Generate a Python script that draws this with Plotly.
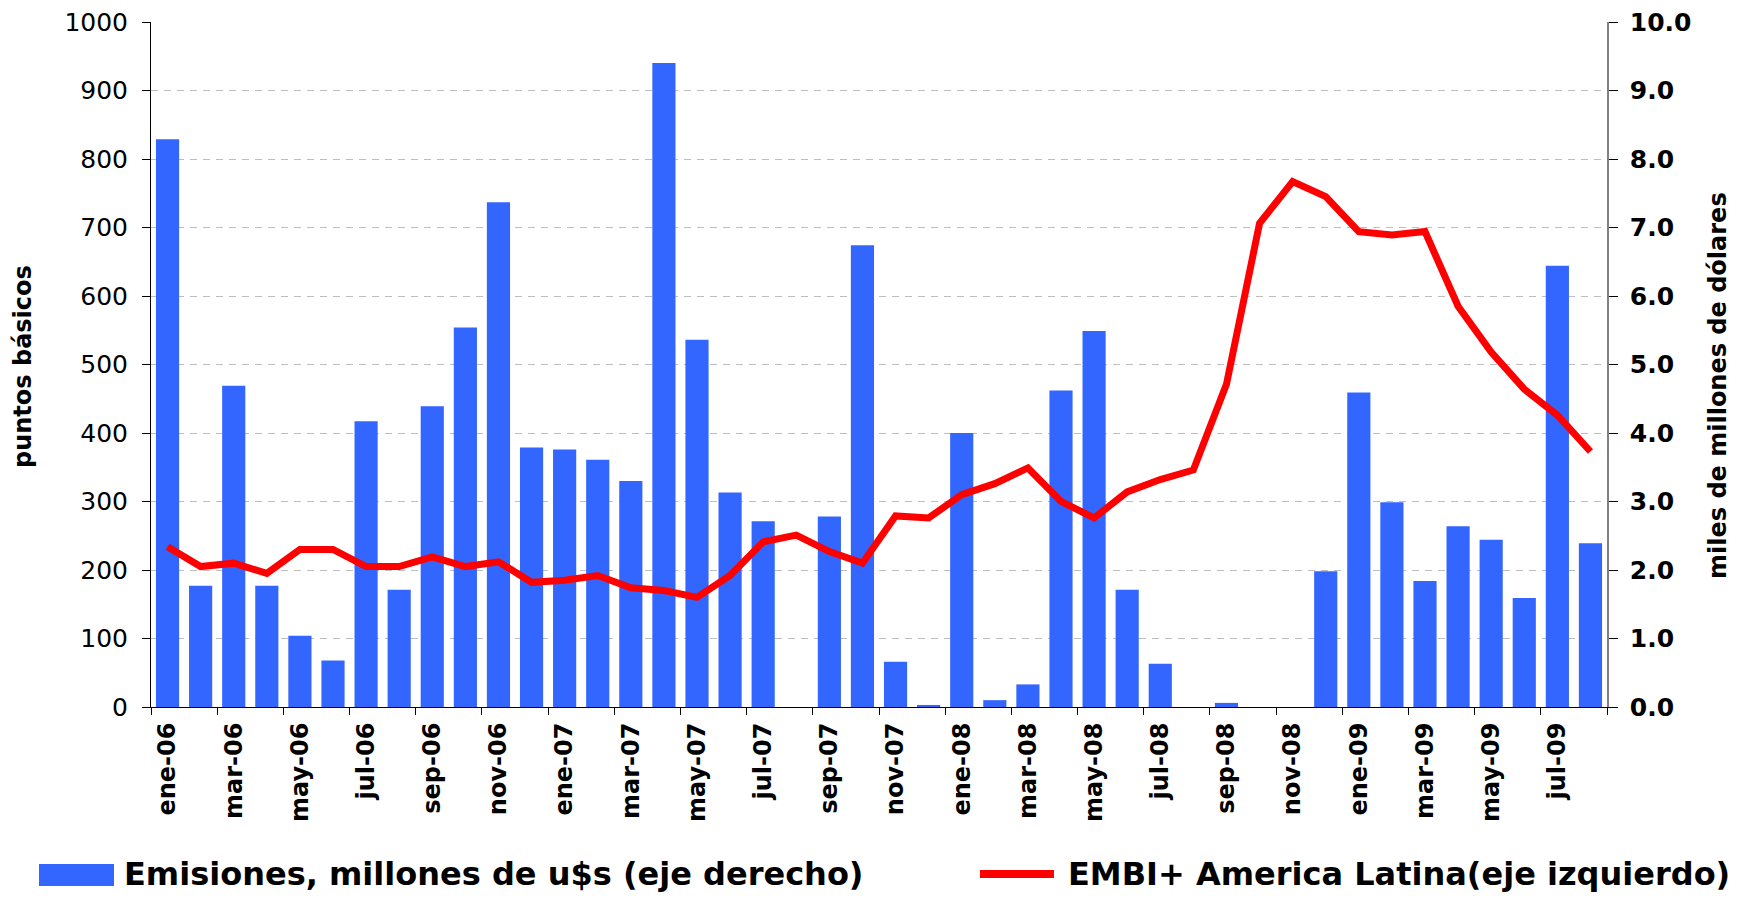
import plotly.graph_objects as go

# months ene-06 .. ago-09
meses = ['ene', 'feb', 'mar', 'abr', 'may', 'jun', 'jul', 'ago', 'sep', 'oct', 'nov', 'dic']
periodos = [f"{m}-{a}" for a in ['06', '07', '08', '09'] for m in meses][:44]

# Emisiones, miles de millones de u$s (right axis)
emisiones = [
    8.29, 1.77, 4.69, 1.77, 1.04, 0.68, 4.17, 1.71, 4.39, 5.54, 7.37, 3.79,
    3.76, 3.61, 3.30, 9.40, 5.36, 3.13, 2.71, 0.00, 2.78, 6.74, 0.66, 0.03,
    4.00, 0.10, 0.33, 4.62, 5.49, 1.71, 0.63, 0.00, 0.06, 0.00, 0.00, 1.98,
    4.59, 2.99, 1.84, 2.64, 2.44, 1.59, 6.44, 2.39,
]

# EMBI+ America Latina, puntos basicos (left axis)
embi = [
    234, 205, 210, 195, 230, 230, 205, 205, 219, 205, 212, 182,
    185, 192, 174, 170, 160, 192, 241, 251, 227, 210, 279, 276,
    310, 326, 349, 300, 276, 314, 332, 346, 471, 706, 767, 745,
    694, 689, 694, 585, 518, 464, 426, 373,
]

BLUE = '#3366FF'
RED = '#FF0000'
FONT = 'DejaVu Sans'

OFF = 8  # default body margin of the html page
W, H = 1743 - OFF, 898 - OFF
# plot area, in page pixels
L, R, T, B = 151 - OFF, 1607 - OFF, 22 - OFF, 707 - OFF


def px(x):
    return (x - OFF - L) / (R - L)


def py(y):
    return (B - (y - OFF)) / (B - T)


fig = go.Figure()

fig.add_trace(go.Bar(
    x=periodos, y=emisiones,
    marker=dict(color=BLUE, line=dict(width=0)),
    name='Emisiones, millones de u$s (eje derecho)',
    showlegend=False,
    yaxis='y',
))

fig.add_trace(go.Scatter(
    x=periodos, y=embi,
    mode='lines',
    line=dict(color=RED, width=7),
    name='EMBI+ America Latina(eje izquierdo)',
    showlegend=False,
    yaxis='y2',
))

# hand-made legend (large keys like the original)
fig.add_shape(type='rect', xref='paper', yref='paper',
              x0=px(39), x1=px(114), y0=py(886), y1=py(864),
              fillcolor=BLUE, line=dict(width=0))
fig.add_shape(type='line', xref='paper', yref='paper',
              x0=px(980), x1=px(1054), y0=py(874), y1=py(874),
              line=dict(color=RED, width=8))
fig.add_annotation(xref='paper', yref='paper', x=px(122), y=py(874),
                   xanchor='left', yanchor='middle', showarrow=False,
                   text='Emisiones, millones de u$s (eje derecho)',
                   font=dict(family=FONT, size=32, color='black', weight='bold'))
fig.add_annotation(xref='paper', yref='paper', x=px(1066), y=py(874),
                   xanchor='left', yanchor='middle', showarrow=False,
                   text='EMBI+ America Latina(eje izquierdo)',
                   font=dict(family=FONT, size=32, color='black', weight='bold'))

# axis titles
fig.add_annotation(xref='paper', yref='paper', x=px(23), y=py(367),
                   xanchor='center', yanchor='middle', showarrow=False,
                   textangle=-90, text='puntos básicos',
                   font=dict(family=FONT, size=24, color='black', weight='bold'))
fig.add_annotation(xref='paper', yref='paper', x=px(1718), y=py(386),
                   xanchor='center', yanchor='middle', showarrow=False,
                   textangle=-90, text='miles de millones de dólares',
                   font=dict(family=FONT, size=24, color='black', weight='bold'))

fig.update_layout(
    width=W, height=H,
    margin=dict(l=L, r=W - R, t=T, b=H - B),
    paper_bgcolor='white', plot_bgcolor='white',
    bargap=0.3,
    font=dict(family=FONT, color='black'),
    xaxis=dict(
        type='category',
        tickmode='linear', tick0=0, dtick=2,
        tickson='boundaries',
        ticks='outside', ticklen=7, tickcolor='black',
        tickangle=-90, ticklabelstandoff=5,
        tickfont=dict(family=FONT, size=24, color='black', weight='bold'),
        showline=True, linecolor='black', linewidth=1,
        showgrid=False,
        range=[-0.5, 43.5],
        automargin=False,
    ),
    yaxis=dict(
        side='right',
        range=[0, 10], dtick=1, tickformat='.1f',
        ticks='outside', ticklen=9, tickcolor='black',
        ticklabelstandoff=7, ticklabeloverflow='allow',
        tickfont=dict(family=FONT, size=25, color='black', weight='bold'),
        showline=True, linecolor='#808080', linewidth=1.5,
        showgrid=True, gridcolor='#BEBEBE', griddash='7px,6px', gridwidth=1,
        zeroline=False,
        automargin=False,
    ),
    yaxis2=dict(
        overlaying='y', side='left',
        range=[0, 1000], dtick=100,
        ticks='outside', ticklen=8, tickcolor='black',
        ticklabelstandoff=9, ticklabeloverflow='allow',
        tickfont=dict(family=FONT, size=25, color='black'),
        showline=True, linecolor='black', linewidth=1,
        showgrid=False, zeroline=False,
        automargin=False,
    ),
)

fig.write_html('out.html')
